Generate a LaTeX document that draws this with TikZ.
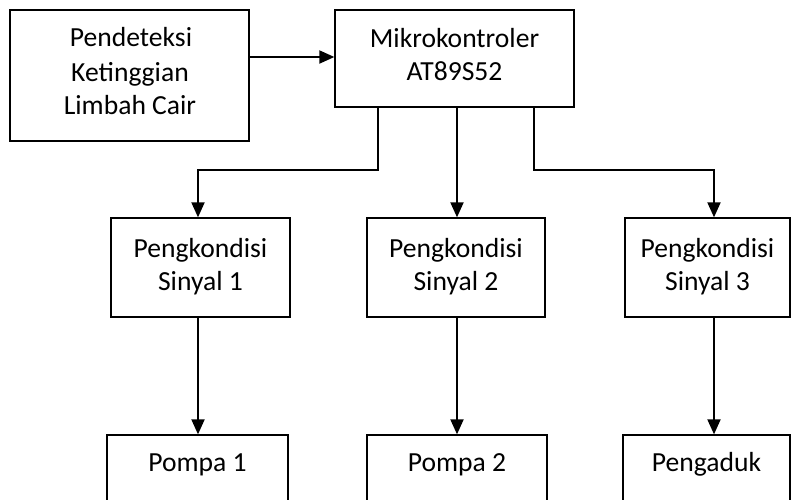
\documentclass[tikz,border=0pt]{standalone}
\usepackage{fontspec}
\setmainfont{Carlito}
\usetikzlibrary{arrows.meta}
\begin{document}
\begin{tikzpicture}[x=1pt,y=-1pt,
  box/.style={draw=black,line width=1.3pt,rectangle,inner sep=0pt},
  txt/.style={anchor=base,inner sep=0pt,font=\fontsize{27.6}{33}\selectfont},
  conn/.style={draw=black,line width=1.9pt,-{Triangle[width=13pt,length=15pt]}}]
\clip (0,0) rectangle (791,499);
\fill[white] (0,0) rectangle (791,499);
% boxes
\node[box,minimum width=239pt,minimum height=131pt] (A) at (129.5,75.5) {};
\node[box,minimum width=239pt,minimum height=97pt] (M) at (454.5,58.5) {};
\node[box,minimum width=179pt,minimum height=99pt] (S1) at (200.5,267.5) {};
\node[box,minimum width=178pt,minimum height=99pt] (S2) at (456,267.5) {};
\node[box,minimum width=165pt,minimum height=99pt] (S3) at (707.5,267.5) {};
\node[box,minimum width=181pt,minimum height=100pt] (P1) at (197.5,485) {};
\node[box,minimum width=180pt,minimum height=100pt] (P2) at (457,485) {};
\node[box,minimum width=167pt,minimum height=100pt] (P3) at (706.5,485) {};
% texts
\node[txt] (ta1) at (131,46) {Pendeteksi};
\node[txt] (ta2) at (130,81) {Ketinggian};
\node[txt] (ta3) at (130,114) {Limbah Cair};
\node[txt] (tm1) at (454.5,47) {Mikrokontroler};
\node[txt] (tm2) at (454.5,80) {AT89S52};
\node[txt] (ts11) at (200.5,257) {Pengkondisi};
\node[txt] (ts12) at (200.5,290) {Sinyal 1};
\node[txt] (ts21) at (456,257) {Pengkondisi};
\node[txt] (ts22) at (456,290) {Sinyal 2};
\node[txt] (ts31) at (707.5,257) {Pengkondisi};
\node[txt] (ts32) at (707.5,290) {Sinyal 3};
\node[txt] (tp1) at (197.5,471) {Pompa 1};
\node[txt] (tp2) at (457,471) {Pompa 2};
\node[txt] (tp3) at (706.5,471) {Pengaduk};
% connector helper coordinates
\coordinate (ya) at (0,57);
\coordinate (m1) at (378,170);
\coordinate (m3) at (534,170);
\coordinate (c1) at (198,0);
\coordinate (c2) at (457,0);
\coordinate (c3) at (714,0);
% connectors
\draw[conn] (A.east |- ya) -- (M.west |- ya);
\draw[conn] (M.south -| m1) -- (m1) -| (S1.north -| c1);
\draw[conn] (M.south -| c2) -- (S2.north -| c2);
\draw[conn] (M.south -| m3) -- (m3) -| (S3.north -| c3);
\draw[conn] (S1.south -| c1) -- (P1.north -| c1);
\draw[conn] (S2.south -| c2) -- (P2.north -| c2);
\draw[conn] (S3.south -| c3) -- (P3.north -| c3);
\end{tikzpicture}
\end{document}
